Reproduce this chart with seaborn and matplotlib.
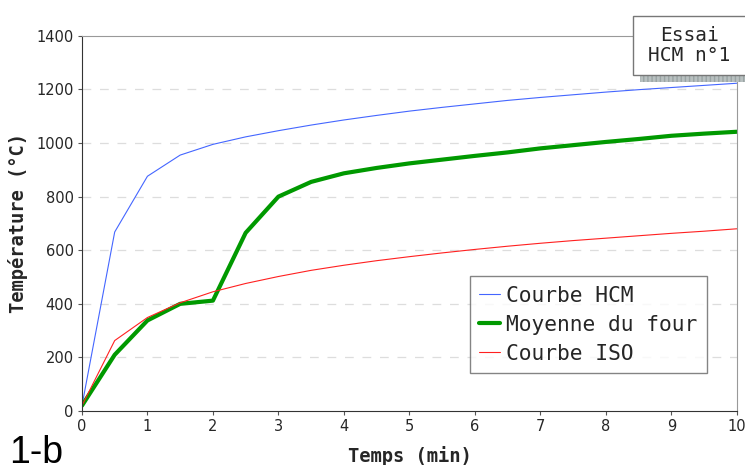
import numpy as np
import pandas as pd
import seaborn as sns
import matplotlib.pyplot as plt
from matplotlib.patches import Rectangle

# --- DATA ---
temps = [0, 0.5, 1, 1.5, 2, 2.5, 3, 3.5, 4, 4.5, 5, 5.5, 6, 6.5, 7, 7.5, 8, 8.5, 9, 9.5, 10]
courbe_hcm = [20, 668, 876, 955, 995, 1023, 1046, 1067, 1086, 1103, 1119, 1133,
              1146, 1159, 1170, 1180, 1190, 1199, 1207, 1215, 1223]
moyenne_four = [20, 210, 338, 400, 412, 665, 800, 855, 887, 907, 924, 938,
                952, 965, 980, 992, 1004, 1015, 1027, 1035, 1042]
courbe_iso = [20, 263, 349, 404, 445, 476, 502, 525, 544, 561, 576, 590,
              603, 615, 626, 636, 645, 654, 663, 671, 680]

series_names = ['Courbe HCM', 'Moyenne du four', 'Courbe ISO']
series_colors = ['#4466ff', '#009900', '#ff2020']
series_widths = [0.8, 3.0, 0.8]

df = pd.DataFrame({
    'Temps': temps * 3,
    'Temp': courbe_hcm + moyenne_four + courbe_iso,
    'Serie': [series_names[0]] * len(temps) + [series_names[1]] * len(temps) + [series_names[2]] * len(temps),
})

sns.set_style('white')
plt.rcParams['font.family'] = ['DejaVu Sans']

fig = plt.figure(figsize=(7.45, 4.65), dpi=100)
ax = fig.add_axes([0.110, 0.116, 0.879, 0.807])

for name, col, lw in zip(series_names, series_colors, series_widths):
    sns.lineplot(data=df[df['Serie'] == name], x='Temps', y='Temp', color=col,
                 linewidth=lw, label=name, ax=ax)

ax.set_xlim(0, 10)
ax.set_ylim(0, 1400)
ax.set_xticks(range(0, 11))
ax.set_yticks(range(0, 1401, 200))
ax.tick_params(axis='both', labelsize=10.5, length=3, direction='out', color='#555555', pad=3)
ax.xaxis.set_ticks_position('bottom')
ax.yaxis.set_ticks_position('left')

# dashed horizontal grid
for y in range(200, 1400, 200):
    ax.axhline(y, color='#dddddd', lw=0.9, ls=(0, (7, 7)), zorder=0)

ax.spines['left'].set_color('#333333')
ax.spines['bottom'].set_color('#333333')
ax.spines['top'].set_color('#999999')
ax.spines['right'].set_color('#999999')

ax.set_xlabel('Temps (min)', family='DejaVu Sans Mono', fontweight='bold', fontsize=13.5, labelpad=8)
ax.set_ylabel('Température (°C)', family='DejaVu Sans Mono', fontweight='bold', fontsize=13.5, labelpad=6)

leg = ax.legend(loc='lower left', bbox_to_anchor=(0.592, 0.101), borderaxespad=0,
                prop={'family': 'DejaVu Sans Mono', 'size': 15.3}, fancybox=False,
                frameon=True, edgecolor='#666666', handlelength=1.0, handletextpad=0.25,
                borderpad=0.45, labelspacing=0.42)
leg.get_frame().set_linewidth(1.0)

# title box with hatched shadow
fig.patches.append(Rectangle((0.859, 0.8237), 0.15, 0.016, transform=fig.transFigure,
                             facecolor='#b8c0c0', edgecolor='#9aa4a4', hatch='||||', lw=0))
fig.patches.append(Rectangle((0.8497, 0.8387), 0.16, 0.127, transform=fig.transFigure,
                             facecolor='white', edgecolor='#777777', lw=1.0))
fig.text(0.925, 0.902, 'Essai\nHCM n°1', family='DejaVu Sans Mono', fontsize=14,
         ha='center', va='center', linespacing=1.05)

fig.text(0.012, 0.004, '1-b', family='Liberation Sans', fontsize=27, ha='left', va='baseline',
         color='black')

fig.savefig('out.png', dpi=100)
